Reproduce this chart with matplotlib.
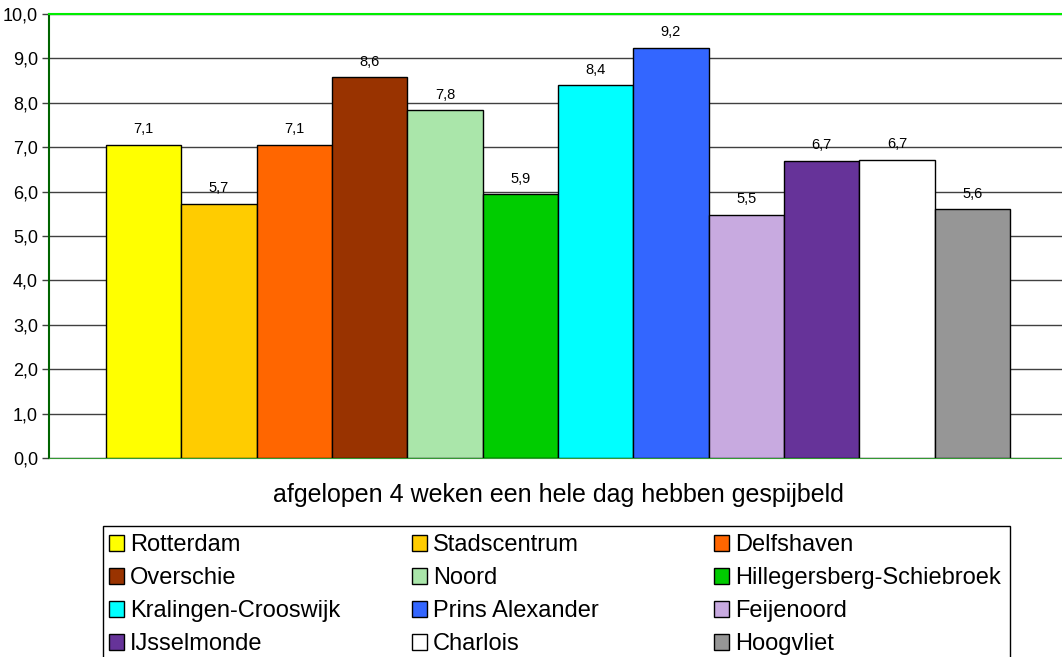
import matplotlib.pyplot as plt
from matplotlib.patches import Rectangle
from matplotlib.legend import Legend

plt.rcParams['font.family'] = ['Liberation Sans', 'DejaVu Sans']

# data
wijken = ['Rotterdam', 'Stadscentrum', 'Delfshaven', 'Overschie', 'Noord',
          'Hillegersberg-Schiebroek', 'Kralingen-Crooswijk', 'Prins Alexander',
          'Feijenoord', 'IJsselmonde', 'Charlois', 'Hoogvliet']
waarden = [7.06, 5.73, 7.06, 8.57, 7.83, 5.94, 8.40, 9.24, 5.48, 6.70, 6.72, 5.61]
kleuren = ['#FFFF00', '#FFCC00', '#FF6600', '#993300', '#AAE6AA', '#00CC00',
           '#00FFFF', '#3366FF', '#C8AAE0', '#663399', '#FFFFFF', '#969696']
yticks = [0, 1, 2, 3, 4, 5, 6, 7, 8, 9, 10]
xlabel = 'afgelopen 4 weken een hele dag hebben gespijbeld'

W, H = 1062, 657
fig = plt.figure(figsize=(W / 100, H / 100), dpi=100)
ax = fig.add_axes([49 / W, 1 - 458 / H, (1067 - 49) / W, (458 - 14) / H])

x = list(range(len(wijken)))
bars = ax.bar(x, waarden, width=1.0, color=kleuren, edgecolor='black', linewidth=1, zorder=3)
ax.bar_label(bars, labels=[f'{v:.1f}'.replace('.', ',') for v in waarden],
             padding=6, fontsize=10.5)

ax.set_xlim(-1.257, 12.257)
ax.set_ylim(0, 10)
ax.set_yticks(yticks)
ax.set_yticklabels([f'{t:.1f}'.replace('.', ',') for t in yticks], fontsize=13)
ax.set_xticks([])
ax.tick_params(axis='y', length=5, width=1, color='#404040', pad=3)
ax.yaxis.grid(True, color='#404040', linewidth=1, zorder=0)
ax.set_axisbelow(True)

ax.spines['right'].set_visible(False)
ax.spines['top'].set_color('#00EE00')
ax.spines['top'].set_linewidth(1.5)
ax.spines['left'].set_color('#006400')
ax.spines['left'].set_linewidth(1.5)
ax.spines['bottom'].set_color('#339933')

ax.set_xlabel(xlabel, fontsize=18, labelpad=18)

# legend: three columns, shared frame
fig.add_artist(Rectangle((103 / W, -0.05), (1010 - 103) / W, 0.05 + 1 - 526 / H,
                         transform=fig.transFigure, fill=False,
                         edgecolor='black', linewidth=1))
for col, xpos in enumerate([109, 412, 714]):
    idx = list(range(col, len(wijken), 3))
    leg = Legend(ax, [bars[i] for i in idx], [wijken[i] for i in idx],
                 loc='upper left', bbox_to_anchor=(xpos / W, 1 - 534 / H),
                 bbox_transform=fig.transFigure, frameon=False, fontsize=17,
                 handlelength=0.65, handleheight=0.65, handletextpad=0.25,
                 labelspacing=0.47, borderpad=0, borderaxespad=0)
    ax.add_artist(leg)

fig.savefig('out.png', dpi=100)
